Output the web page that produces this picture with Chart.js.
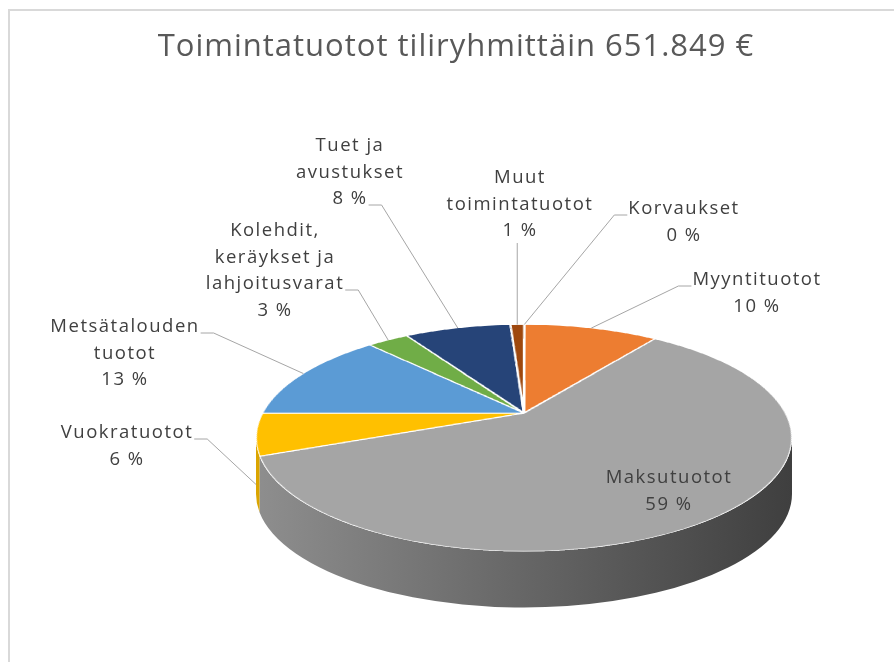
<!DOCTYPE html>
<html>
<head>
<meta charset="utf-8">
<script src="https://cdn.jsdelivr.net/npm/chart.js@4.4.1/dist/chart.umd.min.js"></script>
<style>
  html, body { margin: 0; padding: 0; background: #fff; }
  canvas { display: block; }
</style>
</head>
<body>
<canvas id="chart" width="894" height="662"></canvas>
<script>
const chartTitle = "Toimintatuotot tiliryhmittäin 651.849 €";
const categories = ["Korvaukset", "Myyntituotot", "Maksutuotot", "Vuokratuotot", "Metsätalouden tuotot", "Kolehdit, keräykset ja lahjoitusvarat", "Tuet ja avustukset", "Muut toimintatuotot"];
const amounts = [300, 65000, 384500, 39000, 85000, 20000, 51500, 6549];
const sliceColors = ["#5B9BD5", "#ED7D31", "#A5A5A5", "#FFC000", "#5B9BD5", "#70AD47", "#264478", "#9E480E"];
// label text split into rows like the original
const labelRows = [["Korvaukset"], ["Myyntituotot"], ["Maksutuotot"], ["Vuokratuotot"], ["Metsätalouden", "tuotot"], ["Kolehdit,", "keräykset ja", "lahjoitusvarat"], ["Tuet ja", "avustukset"], ["Muut", "toimintatuotot"]];

// where the tilted pie sits on the page; tilt moves the centre up (perspective)
const PIE = { cx: 524, cy: 438, rx: 268, ry: 113.5, depth: 56, tilt: 0.22 };
// label blocks: centre x, first row y, which side the leader line leaves from,
// drop = how far down the side wall the leader ends
const labelPlace = [
  { x: 684, y: 209, lead: "left", row: 0 },
  { x: 757, y: 280, lead: "left", row: 0 },
  { x: 669, y: 478, lead: null },
  { x: 127, y: 433, lead: "right", row: 0, drop: 0.9 },
  { x: 125, y: 327, lead: "right", row: 0 },
  { x: 275, y: 231, lead: "right", row: 2 },
  { x: 350, y: 146, lead: "right", row: 2 },
  { x: 520, y: 178, lead: "down" }
];

const total = amounts.reduce((a, b) => a + b, 0);
const B = PIE.tilt;
const G = 1 / Math.sqrt(1 - B * B);

function shade(hex, f) {
  const n = parseInt(hex.slice(1), 16);
  const r = Math.round(((n >> 16) & 255) * f);
  const g = Math.round(((n >> 8) & 255) * f);
  const b = Math.round((n & 255) * f);
  return `rgb(${r},${g},${b})`;
}

// angle on the round pie -> angle on the tilted ellipse rim
function rimAngle(t) {
  const c = Math.cos(t), s = Math.sin(t);
  const xp = c / (G * (1 - B * s));
  const yp = (s - B) / (1 - B * s);
  let a = Math.atan2(yp, xp);
  while (a < t - Math.PI) a += 2 * Math.PI;
  while (a > t + Math.PI) a -= 2 * Math.PI;
  return a;
}

function paintBackground(chart) {
  const ctx = chart.ctx;
  ctx.save();
  ctx.fillStyle = "#fff";
  ctx.fillRect(0, 0, chart.width, chart.height);
  ctx.fillStyle = "#d9d9d9";
  ctx.fillRect(8, 9, chart.width - 8, 2);
  ctx.fillRect(8, 9, 2, chart.height - 9);
  ctx.restore();
}

function drawSide(chart) {
  const ctx = chart.ctx;
  const arcs = chart.getDatasetMeta(0).data;
  arcs.forEach((arc, i) => {
    const lo = Math.max(rimAngle(arc.startAngle), 0);
    const hi = Math.min(rimAngle(arc.endAngle), Math.PI);
    if (hi <= lo) return;
    const g = ctx.createLinearGradient(PIE.cx - PIE.rx, 0, PIE.cx + PIE.rx, 0);
    g.addColorStop(0, shade(sliceColors[i], 0.86));
    g.addColorStop(0.45, shade(sliceColors[i], 0.64));
    g.addColorStop(1, shade(sliceColors[i], 0.38));
    ctx.beginPath();
    ctx.ellipse(PIE.cx, PIE.cy, PIE.rx, PIE.ry, 0, lo, hi);
    ctx.ellipse(PIE.cx, PIE.cy + PIE.depth, PIE.rx, PIE.ry, 0, hi, lo, true);
    ctx.closePath();
    ctx.fillStyle = g;
    ctx.fill();
  });
}

// take the round pie Chart.js drew and lay it onto the tilted top face
function warpTop(chart) {
  const ctx = chart.ctx;
  const W = chart.width, H = chart.height;
  const arc0 = chart.getDatasetMeta(0).data[0];
  const ox = arc0.x, oy = arc0.y, r = arc0.outerRadius - 0.5;
  const src = ctx.getImageData(0, 0, W, H).data;

  paintBackground(chart);
  drawSide(chart);

  const x0 = Math.floor(PIE.cx - PIE.rx) - 1, y0 = Math.floor(PIE.cy - PIE.ry) - 1;
  const w = Math.ceil(2 * PIE.rx) + 3, h = Math.ceil(2 * PIE.ry) + 3;
  const img = ctx.getImageData(x0, y0, w, h);
  const d = img.data;
  const S = 3;
  for (let j = 0; j < h; j++) {
    for (let i = 0; i < w; i++) {
      let rs = 0, gs = 0, bs = 0, n = 0;
      for (let sj = 0; sj < S; sj++) {
        for (let si = 0; si < S; si++) {
          const u = (x0 + i + (si + 0.5) / S - PIE.cx) / PIE.rx;
          const v = (y0 + j + (sj + 0.5) / S - PIE.cy) / PIE.ry;
          if (u * u + v * v > 1) continue;
          const y = (v + B) / (1 + B * v);
          const x = u * G * (1 - B * y);
          const sx = Math.min(W - 1, Math.max(0, Math.floor(ox + x * r)));
          const sy = Math.min(H - 1, Math.max(0, Math.floor(oy + y * r)));
          const k = (sy * W + sx) * 4;
          rs += src[k]; gs += src[k + 1]; bs += src[k + 2]; n++;
        }
      }
      if (!n) continue;
      const p = (j * w + i) * 4;
      const a = n / (S * S);
      d[p] = rs / n * a + d[p] * (1 - a);
      d[p + 1] = gs / n * a + d[p + 1] * (1 - a);
      d[p + 2] = bs / n * a + d[p + 2] * (1 - a);
      d[p + 3] = 255;
    }
  }
  ctx.putImageData(img, x0, y0);
}

const pie3d = {
  id: "pie3d",
  beforeDraw(chart) {
    paintBackground(chart);
  },
  afterDatasetsDraw(chart) {
    warpTop(chart);
  },
  afterDraw(chart) {
    const ctx = chart.ctx;
    const arcs = chart.getDatasetMeta(0).data;
    ctx.save();

    ctx.font = "31px 'Open Sans'";
    ctx.letterSpacing = "1px";
    ctx.fillStyle = "#595959";
    ctx.textAlign = "center";
    ctx.textBaseline = "middle";
    ctx.fillText(chartTitle, 456, 47);

    ctx.font = "18.5px 'Open Sans'";
    ctx.letterSpacing = "1.5px";
    const rowH = 26.5;

    arcs.forEach((arc, i) => {
      const place = labelPlace[i];
      const rows = labelRows[i].concat([Math.round(amounts[i] / total * 100) + " %"]);

      ctx.fillStyle = "#404040";
      rows.forEach((txt, k) => ctx.fillText(txt, place.x, place.y + k * rowH));

      if (!place.lead) return;
      const mid = rimAngle((arc.startAngle + arc.endAngle) / 2);
      let drop = place.drop || 0;
      if (!drop && Math.sin(mid) > 0) drop = 0.5;
      const tx = PIE.cx + PIE.rx * Math.cos(mid);
      const ty = PIE.cy + PIE.ry * Math.sin(mid) + PIE.depth * drop;

      ctx.strokeStyle = "#a6a6a6";
      ctx.lineWidth = 1;
      ctx.beginPath();
      if (place.lead === "down") {
        ctx.moveTo(tx, place.y + (rows.length - 1) * rowH + 12);
      } else {
        const w = ctx.measureText(rows[place.row]).width;
        const ly = place.y + place.row * rowH + 6;
        const dir = place.lead === "right" ? 1 : -1;
        const sx = place.x + dir * (w / 2 + 1);
        ctx.moveTo(sx, ly);
        ctx.lineTo(sx + dir * 13, ly);
      }
      ctx.lineTo(tx, ty);
      ctx.stroke();
    });

    ctx.restore();
  }
};

new Chart(document.getElementById("chart"), {
  type: "pie",
  data: {
    labels: categories,
    datasets: [{
      data: amounts,
      backgroundColor: sliceColors,
      borderColor: "#ffffff",
      borderWidth: 2.5
    }]
  },
  options: {
    responsive: false,
    animation: false,
    events: [],
    layout: { padding: { left: 179, right: 179, top: 63, bottom: 63 } },
    plugins: {
      legend: { display: false },
      tooltip: { enabled: false },
      title: { display: false }
    }
  },
  plugins: [pie3d]
});
</script>
</body>
</html>
